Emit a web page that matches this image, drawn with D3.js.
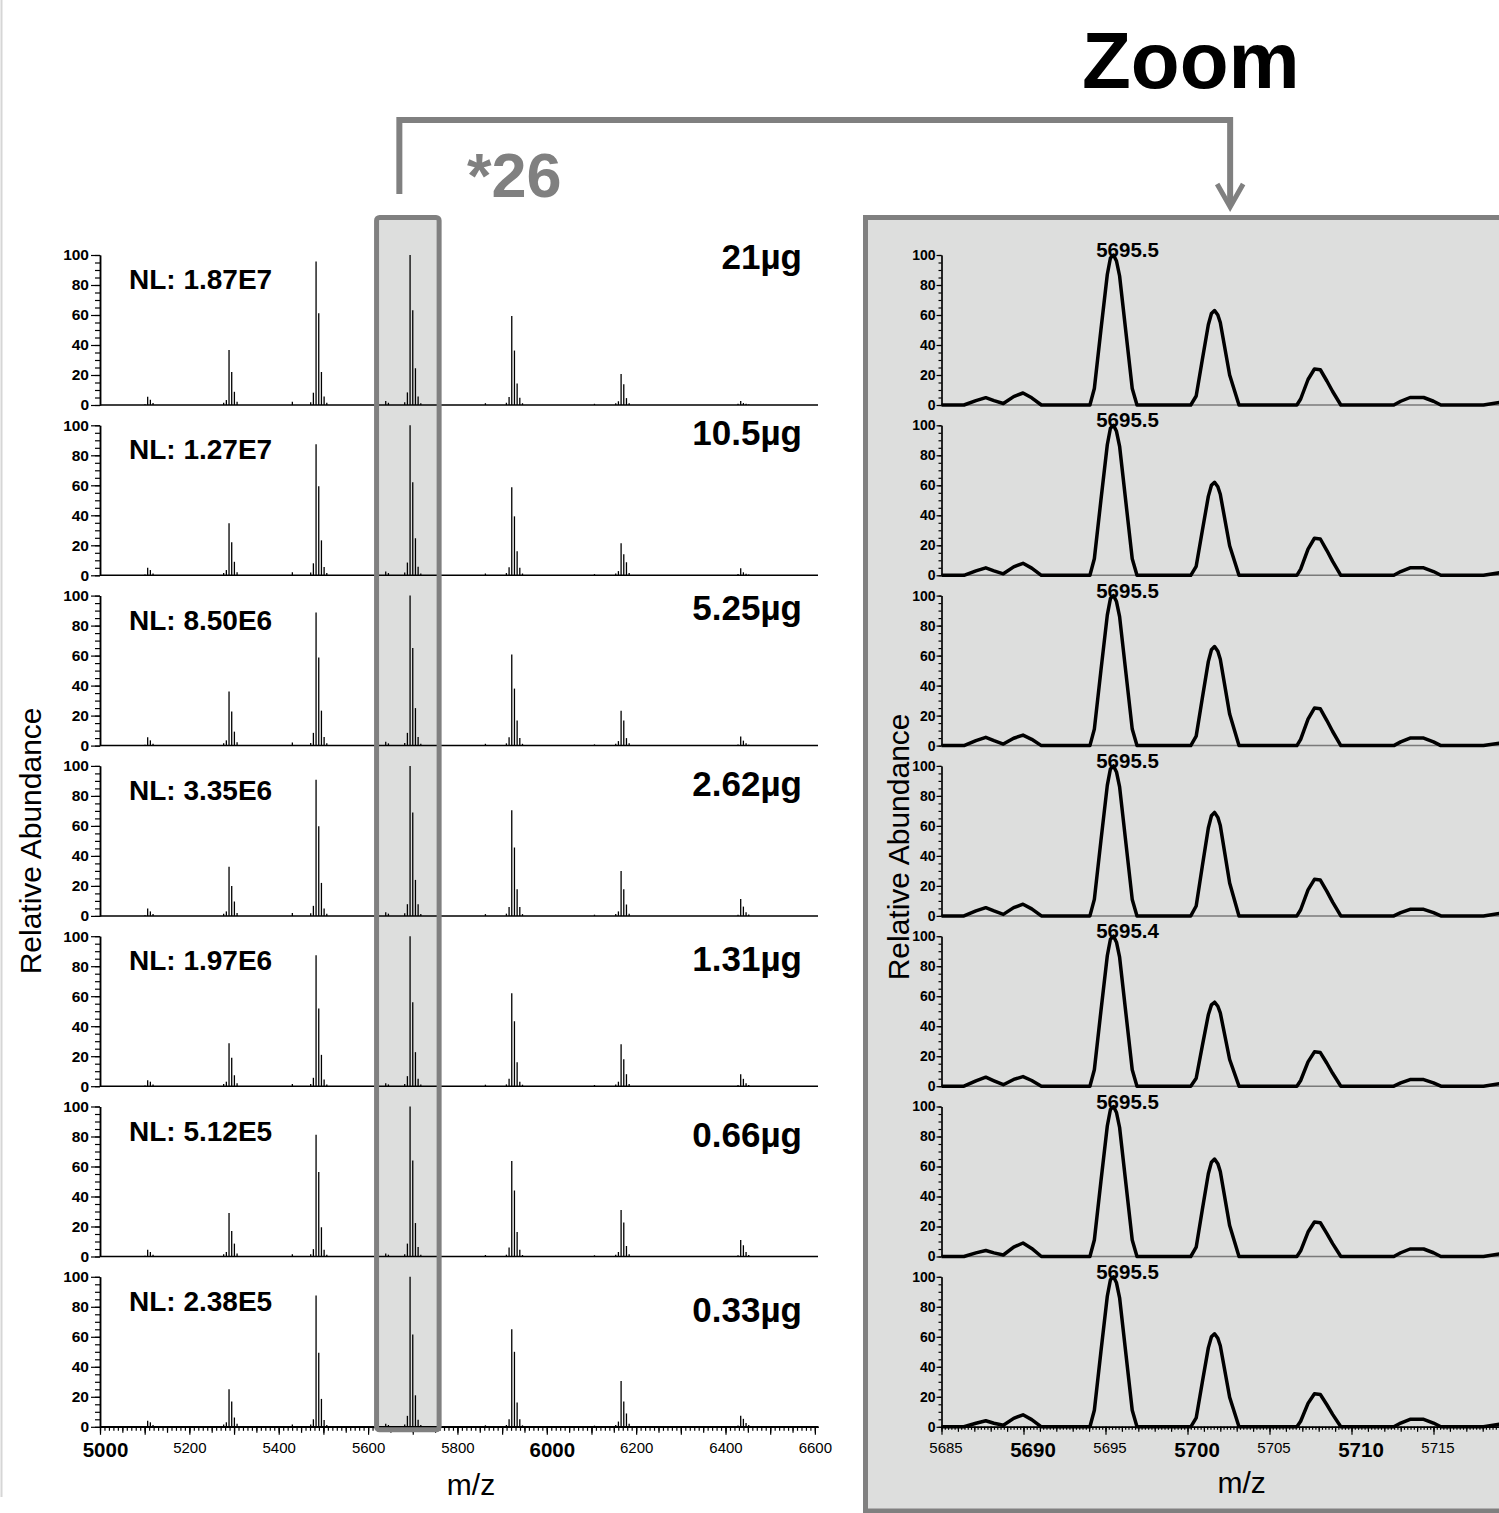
<!DOCTYPE html>
<html>
<head>
<meta charset="utf-8">
<script src="https://cdn.jsdelivr.net/npm/d3@7"></script>
<style>
body { margin: 0; background: #fff; }
svg text { font-family: "Liberation Sans", Arial, sans-serif; }
</style>
</head>
<body>
<script>
// ---- data ----
const amounts = ["21µg", "10.5µg", "5.25µg", "2.62µg", "1.31µg", "0.66µg", "0.33µg"];
const normLevels = ["NL: 1.87E7", "NL: 1.27E7", "NL: 8.50E6", "NL: 3.35E6", "NL: 1.97E6", "NL: 5.12E5", "NL: 2.38E5"];
const peakLabels = ["5695.5", "5695.5", "5695.5", "5695.5", "5695.4", "5695.5", "5695.5"];
const peakApex = 5695.49;
const zoomWindow = [5619, 5759];   // m/z range boxed on the full spectra

const yTicks = [0, 20, 40, 60, 80, 100];
const leftXTicks = [5000, 5200, 5400, 5600, 5800, 6000, 6200, 6400, 6600];
const leftBold = [5000, 6000];
const rightXTicks = [5685, 5690, 5695, 5700, 5705, 5710, 5715];
const rightBold = [5690, 5700, 5710];

// full spectra: centroid sticks (m/z) and relative heights per load
const leftMz = [5100.7, 5106.7, 5112.7, 5118.7,
  5276.8, 5282.8, 5288.8, 5294.8, 5300.8, 5306.8,
  5430.5,
  5471.6, 5477.6, 5483.6, 5489.6, 5495.6, 5501.6, 5507.6,
  5639.5, 5645.5,
  5682, 5688, 5694, 5700, 5706, 5712, 5718,
  5862.6,
  5909.6, 5915.6, 5921.6, 5927.6, 5933.6, 5939.6, 5945.6,
  6106.7,
  6154.3, 6160.3, 6166.3, 6172.3, 6178.3, 6184.3,
  6428, 6434, 6440, 6446, 6452];

const full21 = [0.5, 5.5, 3.5, 1.3, 1.5, 3.3, 36.6, 22, 8.8, 2.2, 2.2,
  1.8, 8.2, 95.6, 61.1, 22, 5.7, 1.5, 2.6, 1.5,
  1.8, 8.4, 100, 63.1, 24.5, 5.7, 1.2, 1.2,
  1.5, 5.3, 59.3, 36.3, 14.4, 4.9, 1.2, 0.8,
  1.2, 2.5, 20.6, 13.9, 4.6, 1.2, 0.8, 2.7, 1.3, 0.8, 0.4];
const full10_5 = [0.5, 5, 3.5, 1.2, 1.5, 3.5, 34.7, 22, 9, 2, 2,
  1.8, 8, 87.3, 59.3, 23.3, 5.5, 1.5, 2.5, 1.5,
  1.8, 8.5, 100, 62, 24.7, 5.7, 1.2, 1.2,
  1.5, 5.3, 58.7, 39.3, 16, 5, 1.2, 0.8,
  1.2, 2.8, 21.3, 14, 8.7, 1.5, 0.8, 4.7, 2, 1, 0.5];
const full5_25 = [0.5, 5.5, 3.5, 1.3, 1.5, 3.5, 36, 22.7, 9.3, 2.2, 2,
  1.8, 8.5, 88.7, 58.7, 23.3, 5.7, 1.5, 2.5, 1.5,
  1.8, 8.5, 100, 65, 25, 5.7, 1.2, 1.2,
  1.5, 5.5, 60.7, 38, 16.7, 5, 1.2, 0.8,
  1.2, 3, 23.3, 16.7, 5, 1.5, 0.8, 6, 3.3, 1.5, 0.5];
const full2_62 = [0.5, 5, 3, 1.2, 1.5, 3, 32.7, 20, 9.6, 2, 2,
  1.8, 6.7, 90.7, 59.8, 22, 5, 1.5, 2.5, 1.5,
  1.8, 7.8, 100, 69, 24, 7.8, 1.2, 1.2,
  1.5, 6, 70.4, 45.6, 17.8, 6, 1.2, 0.8,
  1.2, 3, 30, 17.8, 7.6, 1.5, 0.8, 11.3, 6.2, 2.5, 1];
const full1_31 = [0.5, 4, 3, 1.2, 1.5, 3, 28.7, 18.9, 7.3, 2, 1.5,
  1.5, 5.6, 87.3, 51.8, 20.9, 4.5, 1.2, 2, 1.2,
  1.5, 6.7, 100, 56, 22.7, 5, 1.2, 1,
  1.2, 5, 62, 43.3, 16, 3, 1, 0.8,
  1.2, 3, 28, 18, 8, 1.5, 0.8, 8, 4.9, 2, 0.8];
const full0_66 = [0.5, 4.5, 3, 1.2, 1.5, 3, 29, 17, 8.6, 2, 1.5,
  1.5, 4.9, 81.2, 56.4, 19.5, 4.5, 1.2, 2, 1.2,
  1.5, 8.6, 100, 64, 22.3, 6.4, 1.2, 1,
  1.2, 6, 63.7, 44, 16.4, 4.5, 1, 0.8,
  1.2, 3, 31, 22.6, 7, 1.5, 0.8, 11, 7.5, 3, 1];
const full0_33 = [0.5, 4, 3, 1.2, 1.5, 3, 25, 16.8, 6.2, 2, 1.5,
  1.5, 5, 87.6, 49.4, 18.6, 4.5, 1.2, 2, 1.2,
  1.5, 7.3, 100, 61.6, 21, 4.7, 1.2, 1,
  1.2, 5, 65, 50, 16.2, 5, 1, 0.8,
  1.2, 3.5, 30.6, 16.8, 8.9, 2, 0.8, 7.3, 5.3, 2.5, 1.2];

// zoomed profile traces around the *26 species
const zoomMz = [5685, 5686.37, 5687.1, 5687.7, 5688.2, 5688.77, 5689.4, 5689.97, 5690.5, 5691.09,
  5694.05, 5694.32, 5694.72, 5695.11, 5695.3, 5695.49, 5695.67, 5695.86, 5696.25, 5696.63, 5696.92,
  5700.2, 5700.53, 5700.9, 5701.27, 5701.46, 5701.65, 5701.85, 5702.0, 5702.57, 5703.14,
  5706.67, 5706.9, 5707.35, 5707.74, 5708.1, 5708.5, 5708.85, 5709.35,
  5712.58, 5713.0, 5713.57, 5714.4, 5715.0, 5715.45,
  5718.05, 5719.5];

const zoom21 = [0, 0, 2.9, 4.9, 2.9, 1, 5.6, 8, 4.8, 0, 0, 11, 50, 87, 98, 100, 96, 86, 48, 11, 0,
  0, 6, 30, 53.5, 61, 63, 60, 55, 20, 0, 0, 4, 17, 24, 23.5, 16, 9, 0, 0, 2.5, 5, 5, 2.5, 0, 0, 2.5];
const zoom10_5 = [0, 0, 3, 5, 3, 1, 5.6, 8, 4.8, 0, 0, 11, 50, 87, 98, 100, 96, 86, 48, 11, 0,
  0, 6, 29.5, 52.6, 60, 62, 59, 54, 19.7, 0, 0, 4.1, 17.5, 24.7, 24.2, 16.5, 9.3, 0, 0, 2.5, 5, 5, 2.5, 0, 0, 2.5];
const zoom5_25 = [0, 0, 3.3, 5.5, 3.3, 1, 4.9, 7, 4.2, 0, 0, 11, 50, 87, 98, 100, 96, 86, 48, 11, 0,
  0, 6.3, 31.4, 56, 63.9, 66, 62.9, 57.6, 21, 0, 0, 4.2, 17.7, 25, 24.5, 16.7, 9.4, 0, 0, 2.5, 5, 5, 2.5, 0, 0, 2.5];
const zoom2_62 = [0, 0, 3.3, 5.5, 3.3, 1, 5.5, 7.8, 4.7, 0, 0, 11, 50, 87, 98, 100, 96, 86, 48, 11, 0,
  0, 6.6, 32.9, 58.6, 66.8, 69, 65.7, 60.2, 21.9, 0, 0, 4.1, 17.3, 24.4, 23.9, 16.3, 9.2, 0, 0, 2.2, 4.4, 4.4, 2.2, 0, 0, 2.5];
const zoom1_31 = [0, 0, 3.6, 6, 3.6, 1, 4.5, 6.4, 3.8, 0, 0, 11, 50, 87, 98, 100, 96, 86, 48, 11, 0,
  0, 5.3, 26.7, 47.6, 54.2, 56, 53.3, 48.9, 17.8, 0, 0, 3.8, 16.2, 22.9, 22.4, 15.3, 8.6, 0, 0, 2.2, 4.4, 4.4, 2.2, 0, 0, 2.5];
const zoom0_66 = [0, 0, 2.4, 4, 2.4, 1, 6.3, 9, 5.4, 0, 0, 11, 50, 87, 98, 100, 96, 86, 48, 11, 0,
  0, 6.2, 31, 55.2, 62.9, 65, 61.9, 56.7, 20.6, 0, 0, 3.8, 16.3, 23, 22.5, 15.3, 8.6, 0, 0, 2.5, 5, 5, 2.5, 0, 0, 2.5];
const zoom0_33 = [0, 0, 2.4, 4, 2.4, 1, 5.6, 8, 4.8, 0, 0, 11, 50, 87, 98, 100, 96, 86, 48, 11, 0,
  0, 5.9, 29.5, 52.6, 60, 62, 59, 54, 19.7, 0, 0, 3.7, 15.6, 22, 21.5, 14.7, 8.3, 0, 0, 2.5, 5, 5, 2.5, 0, 0, 2.5];

const fullSeries = [full21, full10_5, full5_25, full2_62, full1_31, full0_66, full0_33];
const zoomSeries = [zoom21, zoom10_5, zoom5_25, zoom2_62, zoom1_31, zoom0_66, zoom0_33];

// ---- layout ----
const W = 1499, H = 1513;
const panelTop0 = 255, panelStep = 170.3, panelH = 150;
const grey = "#808080", boxFill = "#dddedd";
const nPanels = fullSeries.length;
const lastBottom = panelTop0 + panelStep * (nPanels - 1) + panelH;

const xL = d3.scaleLinear().domain([5000, 6607]).range([100, 818]);
const xR = d3.scaleLinear().domain([5685, 5719.5]).range([941.5, 941.5 + 34.5 * 16.4]);

const svg = d3.select("body").append("svg")
  .attr("width", W)
  .attr("height", H);

svg.append("rect").attr("width", W).attr("height", H).attr("fill", "#fff");

// faint page edge on the left
svg.append("line")
  .attr("x1", 1.5).attr("x2", 1.5).attr("y1", 0).attr("y2", 1497)
  .attr("stroke", "#d6d6d6").attr("stroke-width", 2);

// zoom panel background
svg.append("rect")
  .attr("x", 865.5).attr("y", 217.5)
  .attr("width", 700).attr("height", 1293.5)
  .attr("fill", boxFill).attr("stroke", grey).attr("stroke-width", 5);

// highlight box fill behind the full spectra
const boxX0 = xL(zoomWindow[0]), boxX1 = xL(zoomWindow[1]);
svg.append("rect")
  .attr("x", boxX0).attr("y", 217.5)
  .attr("width", boxX1 - boxX0).attr("height", lastBottom + 3 - 217.5)
  .attr("rx", 3)
  .attr("fill", boxFill);

function styleAxis(g, lw) {
  g.select(".domain").attr("stroke", "#000").attr("stroke-width", lw);
  g.selectAll(".tick line").attr("stroke", "#000").attr("stroke-width", 1.2);
}

// x tick labels: big bold ones sit a little right of their tick
function styleXLabels(a, boldList, dxBold, dxReg) {
  a.selectAll("text")
    .attr("fill", "#000")
    .attr("font-family", "'Liberation Sans', Arial, sans-serif")
    .attr("font-size", function(d) { return boldList.indexOf(d) >= 0 ? 20.5 : 15; })
    .attr("font-weight", function(d) { return boldList.indexOf(d) >= 0 ? "bold" : "normal"; })
    .attr("dx", function(d) { return boldList.indexOf(d) >= 0 ? dxBold : dxReg; });
}

// ---- full spectra (left) ----
fullSeries.forEach(function(vals, i) {
  let top = panelTop0 + panelStep * i;
  let bottom = top + panelH;
  let y = d3.scaleLinear().domain([0, 100]).range([bottom, top]);
  let g = svg.append("g");

  // minor y ticks
  g.append("g")
    .attr("transform", "translate(" + xL.range()[0] + ",0)")
    .call(d3.axisLeft(y).tickValues(d3.range(0, 101, 5)).tickSize(5).tickSizeOuter(0).tickFormat(""))
    .call(styleAxis, 1.5);

  // major y ticks with labels
  g.append("g")
    .attr("transform", "translate(" + xL.range()[0] + ",0)")
    .call(d3.axisLeft(y).tickValues(yTicks).tickSize(9).tickPadding(2).tickSizeOuter(0))
    .call(styleAxis, 1.5)
    .call(function(a) {
      a.selectAll("text")
        .attr("font-size", 15.5).attr("font-weight", "bold").attr("fill", "#000")
        .attr("font-family", "'Liberation Sans', Arial, sans-serif");
    });

  // baseline
  g.append("line")
    .attr("x1", xL.range()[0]).attr("x2", xL.range()[1])
    .attr("y1", y(0)).attr("y2", y(0))
    .attr("stroke", "#000").attr("stroke-width", 1.5);

  // sticks
  g.selectAll("line.stick")
    .data(leftMz.map(function(m, k) { return [m, vals[k]]; }))
    .enter().append("line")
    .attr("class", "stick")
    .attr("x1", function(d) { return xL(d[0]); })
    .attr("x2", function(d) { return xL(d[0]); })
    .attr("y1", y(0))
    .attr("y2", function(d) { return y(d[1]); })
    .attr("stroke", "#000").attr("stroke-width", 1.3);

  // labels
  g.append("text")
    .attr("x", 129).attr("y", top + 34)
    .attr("font-size", 28).attr("font-weight", "bold")
    .text(normLevels[i]);

  g.append("text")
    .attr("x", 802).attr("y", top + 14.3 + 5.2 * i)
    .attr("text-anchor", "end")
    .attr("font-size", 35).attr("font-weight", "bold")
    .text(amounts[i]);

  // bottom panel gets the m/z axis
  if (i === nPanels - 1) {
    let ax = g.append("g").attr("transform", "translate(0," + y(0) + ")");
    ax.append("g")
      .call(d3.axisBottom(xL).tickValues(d3.range(5000, 6601, 10)).tickSize(4).tickSizeOuter(0).tickFormat(""))
      .call(styleAxis, 1.5);
    ax.append("g")
      .call(d3.axisBottom(xL).tickValues(d3.range(5000, 6601, 50)).tickSize(6).tickSizeOuter(0).tickFormat(""))
      .call(styleAxis, 1.5);
    ax.append("g")
      .call(d3.axisBottom(xL).tickValues(d3.range(5000, 6601, 100)).tickSize(8).tickPadding(7.6).tickSizeOuter(0)
        .tickFormat(function(d) { return leftXTicks.indexOf(d) >= 0 ? d : ""; }))
      .call(styleAxis, 1.5)
      .call(styleXLabels, leftBold, 5, 0);
  }
});

// highlight box outline on top
svg.append("rect")
  .attr("x", boxX0).attr("y", 217.5)
  .attr("width", boxX1 - boxX0).attr("height", lastBottom + 3 - 217.5)
  .attr("rx", 3)
  .attr("fill", "none").attr("stroke", grey).attr("stroke-width", 5);

// ---- zoomed traces (right) ----
const line = d3.line()
  .x(function(d) { return xR(d[0]); })
  .y(function(d) { return d[1]; });

zoomSeries.forEach(function(vals, i) {
  let top = panelTop0 + panelStep * i;
  let bottom = top + panelH;
  let y = d3.scaleLinear().domain([0, 100]).range([bottom, top]);
  let g = svg.append("g");

  // baseline (grey)
  g.append("line")
    .attr("x1", xR.range()[0]).attr("x2", W)
    .attr("y1", y(0)).attr("y2", y(0))
    .attr("stroke", "#7a7a7a").attr("stroke-width", 1.5);

  g.append("g")
    .attr("transform", "translate(" + xR.range()[0] + ",0)")
    .call(d3.axisLeft(y).tickValues(d3.range(0, 101, 5)).tickSize(3).tickSizeOuter(0).tickFormat(""))
    .call(styleAxis, 1.2);

  g.append("g")
    .attr("transform", "translate(" + xR.range()[0] + ",0)")
    .call(d3.axisLeft(y).tickValues(yTicks).tickSize(5).tickPadding(1).tickSizeOuter(0))
    .call(styleAxis, 1.2)
    .call(function(a) {
      a.selectAll("text")
        .attr("font-size", 14).attr("font-weight", "bold").attr("fill", "#000")
        .attr("font-family", "'Liberation Sans', Arial, sans-serif");
    });

  g.append("path")
    .datum(zoomMz.map(function(m, k) { return [m, y(vals[k])]; }))
    .attr("d", line)
    .attr("fill", "none")
    .attr("stroke", "#000")
    .attr("stroke-width", 3.5)
    .attr("stroke-linejoin", "round");

  g.append("text")
    .attr("x", xR(peakApex) + 14).attr("y", top + 2)
    .attr("text-anchor", "middle")
    .attr("font-size", 20.5).attr("font-weight", "bold")
    .text(peakLabels[i]);

  if (i === nPanels - 1) {
    let ax = g.append("g").attr("transform", "translate(0," + y(0) + ")");
    ax.append("g")
      .call(d3.axisBottom(xR).tickValues(d3.range(5685, 5719.01, 0.2)).tickSize(3).tickSizeOuter(0).tickFormat(""))
      .call(styleAxis, 1.2);
    ax.append("g")
      .call(d3.axisBottom(xR).tickValues(d3.range(5685, 5720, 1)).tickSize(5).tickSizeOuter(0).tickFormat(""))
      .call(styleAxis, 1.2);
    ax.append("g")
      .call(d3.axisBottom(xR).tickValues(rightXTicks).tickSize(8).tickPadding(7.6).tickSizeOuter(0).tickFormat(d3.format("d")))
      .call(styleAxis, 1.2)
      .call(styleXLabels, rightBold, 9, 4);
  }
});

// ---- axis titles ----
svg.append("text")
  .attr("transform", "translate(41," + (panelTop0 + (lastBottom - panelTop0) / 2) + ") rotate(-90)")
  .attr("text-anchor", "middle").attr("font-size", 30)
  .text("Relative Abundance");
svg.append("text")
  .attr("transform", "translate(909," + (panelTop0 + (lastBottom - panelTop0) / 2 + 6) + ") rotate(-90)")
  .attr("text-anchor", "middle").attr("font-size", 30)
  .text("Relative Abundance");
svg.append("text")
  .attr("x", (xL(5000) + xL(6607)) / 2 + 12).attr("y", 1495)
  .attr("text-anchor", "middle").attr("font-size", 30)
  .text("m/z");
svg.append("text")
  .attr("x", xR(5703.3)).attr("y", 1493)
  .attr("text-anchor", "middle").attr("font-size", 30)
  .text("m/z");

// ---- zoom bracket and annotations ----
const bx0 = xL(5670), bx1 = xR(5702.6);
svg.append("path")
  .attr("d", "M" + bx0 + ",194 V120 H" + bx1 + " V206")
  .attr("fill", "none").attr("stroke", grey).attr("stroke-width", 6);
svg.append("path")
  .attr("d", "M" + (bx1 - 13) + ",184 L" + bx1 + ",207 L" + (bx1 + 13) + ",184")
  .attr("fill", "none").attr("stroke", grey).attr("stroke-width", 5);

svg.append("text")
  .attr("x", 467).attr("y", 197)
  .attr("font-size", 63).attr("font-weight", "bold").attr("fill", grey)
  .text("*26");

svg.append("text")
  .attr("x", 1082).attr("y", 88)
  .attr("font-size", 80).attr("font-weight", "bold")
  .text("Zoom");
</script>
</body>
</html>
